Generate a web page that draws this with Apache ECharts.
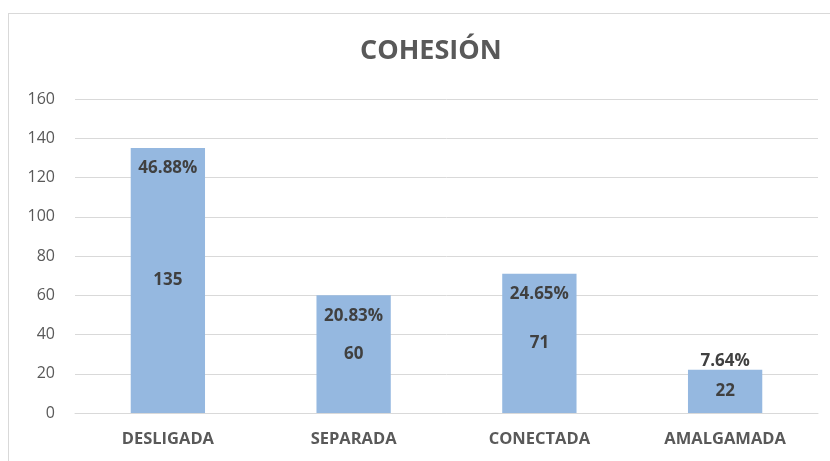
<!DOCTYPE html>
<html lang="es">
<head>
    <meta charset="UTF-8">
    <title>Cohesión</title>
    <script src="https://cdn.jsdelivr.net/npm/echarts@6.0.0/dist/echarts.min.js"></script>
    <style>
        html, body { margin: 0; padding: 0; background: #fff; overflow: hidden; }
        #frame { position: absolute; left: 8px; top: 13px; width: 900px; height: 500px; border: 1px solid #d9d9d9; }
        #chart { position: absolute; left: 0; top: 0; width: 830px; height: 461px; }
    </style>
</head>
<body>
<div id="frame"></div>
<div id="chart"></div>
<script>
    const categories = ["DESLIGADA", "SEPARADA", "CONECTADA", "AMALGAMADA"];
    const counts = [135, 60, 71, 22];
    const percents = ["46.88%", "20.83%", "24.65%", "7.64%"];

    const textColor = '#595959';
    const labelColor = '#404040';
    const font = '"Open Sans", sans-serif';

    // la etiqueta del porcentaje va fuera cuando la barra es baja
    const percentData = counts.map((v, i) => ({
        value: v,
        label: {
            position: v < 40 ? 'top' : 'insideTop',
            distance: v < 40 ? 0 : 12,
            formatter: percents[i]
        }
    }));

    const myChart = echarts.init(document.getElementById("chart"));
    const option = {
        animation: false,
        title: {
            text: 'COHESIÓN',
            left: 355,
            top: 33,
            textStyle: { fontFamily: font, fontSize: 27, fontWeight: 'bold', color: textColor }
        },
        grid: { left: 75, right: 12, top: 99, bottom: 48 },
        xAxis: {
            type: 'category',
            data: categories,
            axisLine: { lineStyle: { color: '#d9d9d9' } },
            axisTick: { show: false },
            axisLabel: { fontFamily: font, fontSize: 16.5, fontWeight: 'bold', color: textColor, margin: 18 }
        },
        yAxis: {
            type: 'value',
            min: 0,
            max: 160,
            interval: 20,
            axisLine: { show: false },
            axisTick: { show: false },
            splitLine: { lineStyle: { color: '#d9d9d9' } },
            axisLabel: { fontFamily: font, fontSize: 16, color: textColor, margin: 20 }
        },
        series: [
            {
                name: 'Cantidad',
                type: 'bar',
                barWidth: '40%',
                data: counts,
                itemStyle: { color: '#95b8e0' },
                label: {
                    show: true,
                    position: 'inside',
                    fontFamily: font, fontSize: 17, fontWeight: 'bold', color: labelColor
                },
                z: 2
            },
            {
                name: 'Porcentaje',
                type: 'bar',
                barWidth: '40%',
                barGap: '-100%',
                data: percentData,
                itemStyle: { color: 'rgba(0,0,0,0)' },
                label: {
                    show: true,
                    fontFamily: font, fontSize: 17, fontWeight: 'bold', color: labelColor
                },
                silent: true,
                z: 3
            }
        ]
    };
    myChart.setOption(option);
</script>
</body>
</html>
